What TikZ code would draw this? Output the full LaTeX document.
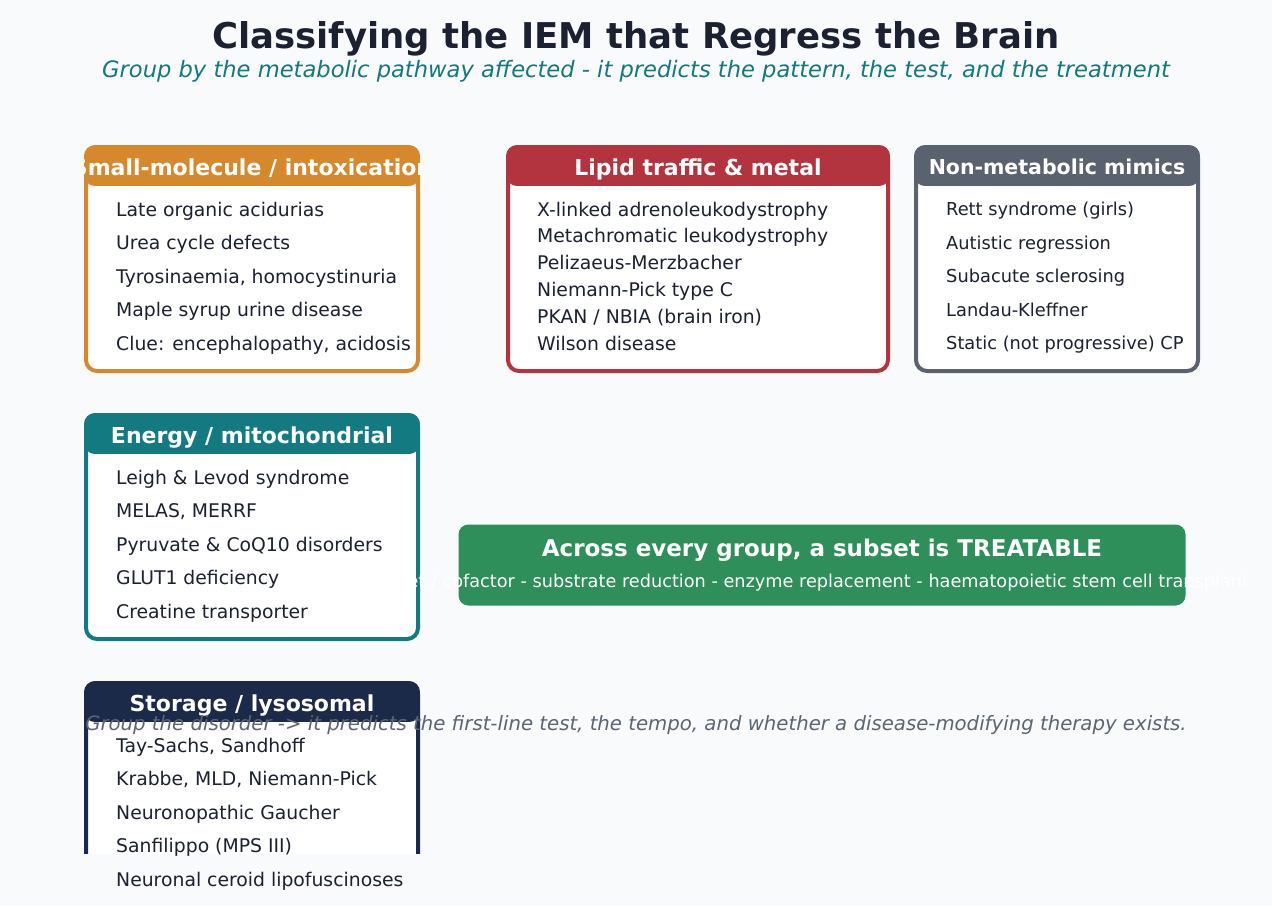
\documentclass[tikz,border=0pt]{standalone}
\usepackage{fontspec}
\setmainfont{DejaVu Sans}
\newcommand{\fsz}[1]{\fontsize{#1}{#1}\selectfont}
\begin{document}
\begin{tikzpicture}[x=1pt,y=-1pt]
  % Colors
  \definecolor{bgcolor}{HTML}{F8FAFC}
  \definecolor{inkcolor}{HTML}{1B2130}
  \definecolor{subcolor}{HTML}{12797E}
  \definecolor{notecolor}{HTML}{5C6573}
  \definecolor{smallcolor}{HTML}{D6892C}
  \definecolor{lipidcolor}{HTML}{B3333F}
  \definecolor{mimiccolor}{HTML}{5A6270}
  \definecolor{energycolor}{HTML}{127A80}
  \definecolor{storecolor}{HTML}{1C2A4A}
  \definecolor{treatcolor}{HTML}{2E8F5A}

  % Styles
  \tikzstyle{card frame}=[line width=4pt,fill=white,rounded corners=11pt]
  \tikzstyle{card head}=[rounded corners=11pt]
  \tikzstyle{card title}=[text=white,font=\fsz{22}\bfseries,inner sep=0pt,anchor=base]
  \tikzstyle{item}=[text=inkcolor,font=\fsz{18.8},anchor=base west,inner sep=0pt]
  \tikzstyle{small item}=[item,font=\fsz{17.8}]

  % Page
  \fill[bgcolor] (0,0) rectangle (1272,906);
  \useasboundingbox (0,0) rectangle (1272,906);

  \node[text=inkcolor,font=\fsz{35.5}\bfseries] (title) at (636,39)
    {Classifying the IEM that Regress the Brain};
  \node[text=subcolor,font=\fsz{22.6}\itshape] (subtitle) at (636,71)
    {Group by the metabolic pathway affected - it predicts the pattern, the test, and the treatment};

  % Small-molecule card
  \draw[card frame,draw=smallcolor] (86,147) rectangle (418,371);
  \begin{scope}
    \clip[card head] (84,145) rectangle (420,186);
    \fill[smallcolor] (84,145) rectangle (420,186);
    \node[card title] (small) at (252,175) {Small-molecule / intoxication};
  \end{scope}
  \foreach \t [count=\i] in {Late organic acidurias, Urea cycle defects,
      {Tyrosinaemia, homocystinuria}, Maple syrup urine disease,
      {Clue: encephalopathy, acidosis}}
    \node[item] (small-\i) at (116,{216+33.5*(\i-1)}) {\t};

  % Lipid card
  \draw[card frame,draw=lipidcolor] (508,147) rectangle (888,371);
  \begin{scope}
    \clip[card head] (506,145) rectangle (890,186);
    \fill[lipidcolor] (506,145) rectangle (890,186);
    \node[card title] (lipid) at (698,175) {Lipid traffic \& metal};
  \end{scope}
  \foreach \t [count=\i] in {X-linked adrenoleukodystrophy,
      Metachromatic leukodystrophy, Pelizaeus-Merzbacher,
      Niemann-Pick type C, PKAN / NBIA (brain iron), Wilson disease}
    \node[item] (lipid-\i) at (537,{216+26.8*(\i-1)}) {\t};

  % Mimics card
  \draw[card frame,draw=mimiccolor] (916,147) rectangle (1198,371);
  \begin{scope}
    \clip[card head] (914,145) rectangle (1200,186);
    \fill[mimiccolor] (914,145) rectangle (1200,186);
    \node[card title,font=\fsz{20.5}\bfseries] (mimic) at (1057,174) {Non-metabolic mimics};
  \end{scope}
  \foreach \t [count=\i] in {Rett syndrome (girls), Autistic regression,
      Subacute sclerosing, Landau-Kleffner, Static (not progressive) CP}
    \node[small item] (mimic-\i) at (946,{215.5+33.5*(\i-1)}) {\t};

  % Energy card
  \draw[card frame,draw=energycolor] (86,415) rectangle (418,639);
  \begin{scope}
    \clip[card head] (84,413) rectangle (420,454);
    \fill[energycolor] (84,413) rectangle (420,454);
    \node[card title] (energy) at (252,443) {Energy / mitochondrial};
  \end{scope}
  \foreach \t [count=\i] in {Leigh \& Levod syndrome, {MELAS, MERRF},
      Pyruvate \& CoQ10 disorders, GLUT1 deficiency, Creatine transporter}
    \node[item] (energy-\i) at (116,{484+33.5*(\i-1)}) {\t};

  % Treatable banner
  \node[fill=treatcolor,rounded corners=10pt,minimum width=727pt,
    minimum height=81pt,inner sep=0pt] (treat) at (822,565) {};
  \node[text=white,font=\fsz{23}\bfseries,anchor=base] (treat-head) at (822,556)
    {Across every group, a subset is TREATABLE};
  \node[text=white,font=\fsz{17.7},anchor=base,inner sep=0pt] (treat-list) at (819,587)
    {Diet / cofactor - substrate reduction - enzyme replacement - haematopoietic stem cell transplant};

  % Storage card (cut at the foot)
  \begin{scope}
    \clip (0,0) rectangle (1272,853);
    \draw[card frame,draw=storecolor] (86,683) rectangle (418,907);
    \begin{scope}
      \clip[card head] (84,681) rectangle (420,722);
      \fill[storecolor] (84,681) rectangle (420,722);
      \node[card title] (store) at (252,711) {Storage / lysosomal};
    \end{scope}
  \end{scope}
  \node[text=notecolor,font=\fsz{19.7}\itshape,anchor=base] (note) at (636,730)
    {Group the disorder -> it predicts the first-line test, the tempo, and whether a disease-modifying therapy exists.};
  \foreach \t [count=\i] in {{Tay-Sachs, Sandhoff}, {Krabbe, MLD, Niemann-Pick},
      Neuronopathic Gaucher, Sanfilippo (MPS III),
      Neuronal ceroid lipofuscinoses}
    \node[item] (store-\i) at (116,{752+33.5*(\i-1)}) {\t};
\end{tikzpicture}
\end{document}
